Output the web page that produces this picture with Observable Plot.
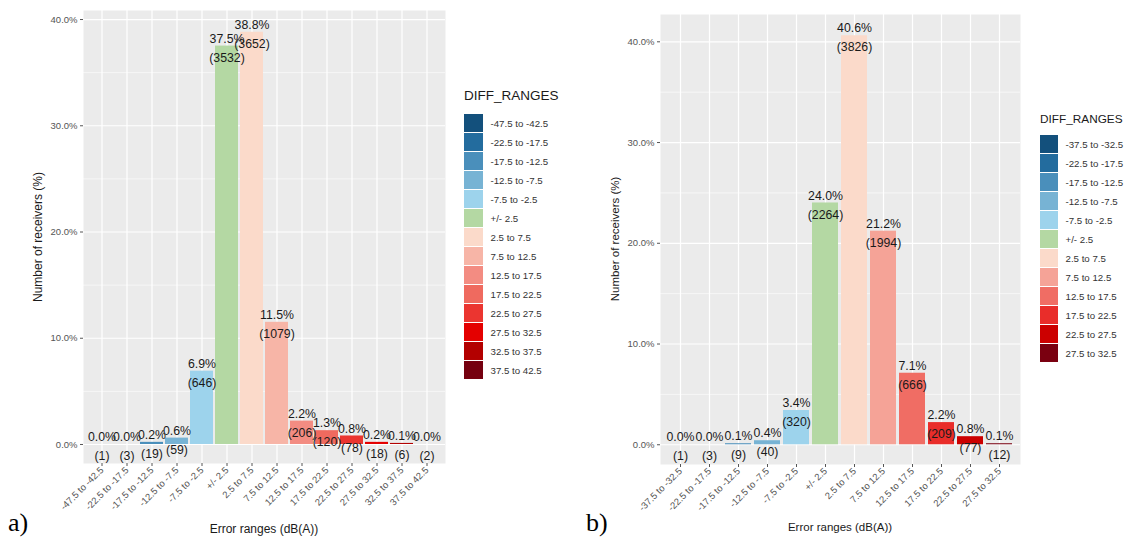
<!DOCTYPE html>
<html><head><meta charset="utf-8">
<script src="https://cdn.jsdelivr.net/npm/d3@7"></script>
<script src="https://cdn.jsdelivr.net/npm/@observablehq/plot@0.6"></script>
<style>
body{margin:0;background:#fff;}
#root{position:relative;width:1129px;height:541px;overflow:hidden;font-family:"Liberation Sans",Arial,sans-serif;}
.abs{position:absolute;}
.ytitle{position:absolute;transform:translate(-50%,-50%) rotate(-90deg);white-space:nowrap;color:#1a1a1a;line-height:1;}
.xtitle{position:absolute;transform:translate(-50%,-50%);white-space:nowrap;color:#1a1a1a;line-height:1;}
.tag{position:absolute;font-family:"Liberation Serif","Times New Roman",serif;font-size:26px;line-height:26px;color:#000;}
.ltitle{position:absolute;line-height:1;color:#1a1a1a;white-space:nowrap;}
</style></head><body><div id="root"></div>
<script>
// ---- Panel a data ----
const catsA = ["-47.5 to -42.5","-22.5 to -17.5","-17.5 to -12.5","-12.5 to -7.5","-7.5 to -2.5","+/- 2.5","2.5 to 7.5","7.5 to 12.5","12.5 to 17.5","17.5 to 22.5","22.5 to 27.5","27.5 to 32.5","32.5 to 37.5","37.5 to 42.5"];
const pctA = [0.0,0.0,0.2,0.6,6.9,37.5,38.8,11.5,2.2,1.3,0.8,0.2,0.1,0.0];
const countA = [1,3,19,59,646,3532,3652,1079,206,120,78,18,6,2];
const colorsA = ["#13507c","#236c9e","#4a8fbb","#77b3d4","#9dd3ec","#b4d8a3","#fbdaca","#f7b5a7","#f38c82","#ef6a5f","#eb3530","#e40000","#b30000","#75000f"];

// ---- Panel b data ----
const catsB = ["-37.5 to -32.5","-22.5 to -17.5","-17.5 to -12.5","-12.5 to -7.5","-7.5 to -2.5","+/- 2.5","2.5 to 7.5","7.5 to 12.5","12.5 to 17.5","17.5 to 22.5","22.5 to 27.5","27.5 to 32.5"];
const pctB = [0.0,0.0,0.1,0.4,3.4,24.0,40.6,21.2,7.1,2.2,0.8,0.1];
const countB = [1,3,9,40,320,2264,3826,1994,666,209,77,12];
const colorsB = ["#13507c","#236c9e","#4a8fbb","#77b3d4","#9dd3ec","#b4d8a3","#fbdaca","#f5a397","#f06d64","#e92d2a","#cc0000","#7a0010"];

const yMajor = [0,10,20,30,40];
const yMinor = [5,15,25,35];
const legendTitle = "DIFF_RANGES";
const xTitle = "Error ranges (dB(A))";
const yTitle = "Number of receivers (%)";

const FONT = '"Liberation Sans",Arial,sans-serif';
const root = document.getElementById("root");

function barChart({cats,pct,counts,colors,yDomain,width,height,marginLeft,marginRight,marginTop,marginBottom,labelSize}) {
  const data = cats.map((c,i)=>({cat:c,pct:pct[i],n:counts[i]}));
  return Plot.plot({
    width,height,marginLeft,marginRight,marginTop,marginBottom,
    style:{fontFamily:FONT,background:"transparent",overflow:"visible",fontSize:"10px"},
    x:{type:"band",domain:cats,paddingInner:0.1,paddingOuter:0.15},
    y:{domain:yDomain},
    color:{type:"ordinal",domain:cats,range:colors},
    marks:[
      Plot.frame({fill:"#ebebeb",stroke:"none"}),
      Plot.gridY({ticks:yMinor.filter(v=>v<yDomain[1]),stroke:"white",strokeOpacity:1,strokeWidth:0.6}),
      Plot.gridY({ticks:yMajor,stroke:"white",strokeOpacity:1,strokeWidth:1.2}),
      Plot.gridX({stroke:"white",strokeOpacity:1,strokeWidth:1.2}),
      Plot.barY(data,{x:"cat",y:"pct",fill:"cat"}),
      Plot.text(data,{x:"cat",y:"pct",text:d=>d.pct.toFixed(1)+"%\n("+d.n+")",fontSize:labelSize,lineHeight:1.55,fill:"#1a1a1a"}),
      Plot.axisY({ticks:yMajor,tickFormat:d=>d.toFixed(1)+"%",tickSize:3,tickPadding:3,fontSize:9.5,color:"#555",label:null}),
      Plot.axisX({tickRotate:-45,tickSize:3,tickPadding:2,fontSize:9.5,color:"#555",label:null})
    ]
  });
}

function legendPlot(cats,colors,step,keyW,fs){
  return Plot.plot({
    width:170,height:cats.length*step,margin:0,
    style:{fontFamily:FONT,background:"transparent",overflow:"visible"},
    x:{type:"band",domain:["k"],range:[0,keyW],padding:0,axis:null},
    y:{type:"band",domain:cats,range:[0,cats.length*step],padding:0.05,axis:null},
    color:{type:"ordinal",domain:cats,range:colors},
    marks:[
      Plot.cell(cats,{x:()=>"k",y:d=>d,fill:d=>d}),
      Plot.text(cats,{x:()=>"k",y:d=>d,text:d=>d,dx:keyW/2+7,textAnchor:"start",fontSize:fs,fill:"#333"})
    ]
  });
}

function place(el,left,top){ el.style.position="absolute"; el.style.left=left+"px"; el.style.top=top+"px"; root.appendChild(el); return el; }
function div(cls,text,left,top,fs){ const d=document.createElement("div"); d.className=cls; d.textContent=text; d.style.left=left+"px"; d.style.top=top+"px"; if(fs) d.style.fontSize=fs+"px"; root.appendChild(d); return d; }

// Panel a
place(barChart({cats:catsA,pct:pctA,counts:countA,colors:colorsA,yDomain:[-1.79,40.85],width:450,height:541,marginLeft:83,marginRight:5,marginTop:10,marginBottom:78,labelSize:12.3}),0,0);
// Panel b
place(barChart({cats:catsB,pct:pctB,counts:countB,colors:colorsB,yDomain:[-1.96,42.71],width:450,height:541,marginLeft:83,marginRight:7,marginTop:14,marginBottom:77,labelSize:12.3}),577,0);

// Legends
div("ltitle",legendTitle,464,89,13.5);
place(legendPlot(catsA,colorsA,19.8,19,9.7),464,108);
div("ltitle",legendTitle,1040,113.5,11.8);
place(legendPlot(catsB,colorsB,19.6,18,9.7),1040,131);

// Axis titles
div("ytitle",yTitle,38,237,12);
div("ytitle",yTitle,616,239,11.5);
div("xtitle",xTitle,264,529,12);
div("xtitle",xTitle,840,528,11.5);

// Panel tags
div("tag","a)",8,510);
div("tag","b)",586,510);
</script>
</body></html>
